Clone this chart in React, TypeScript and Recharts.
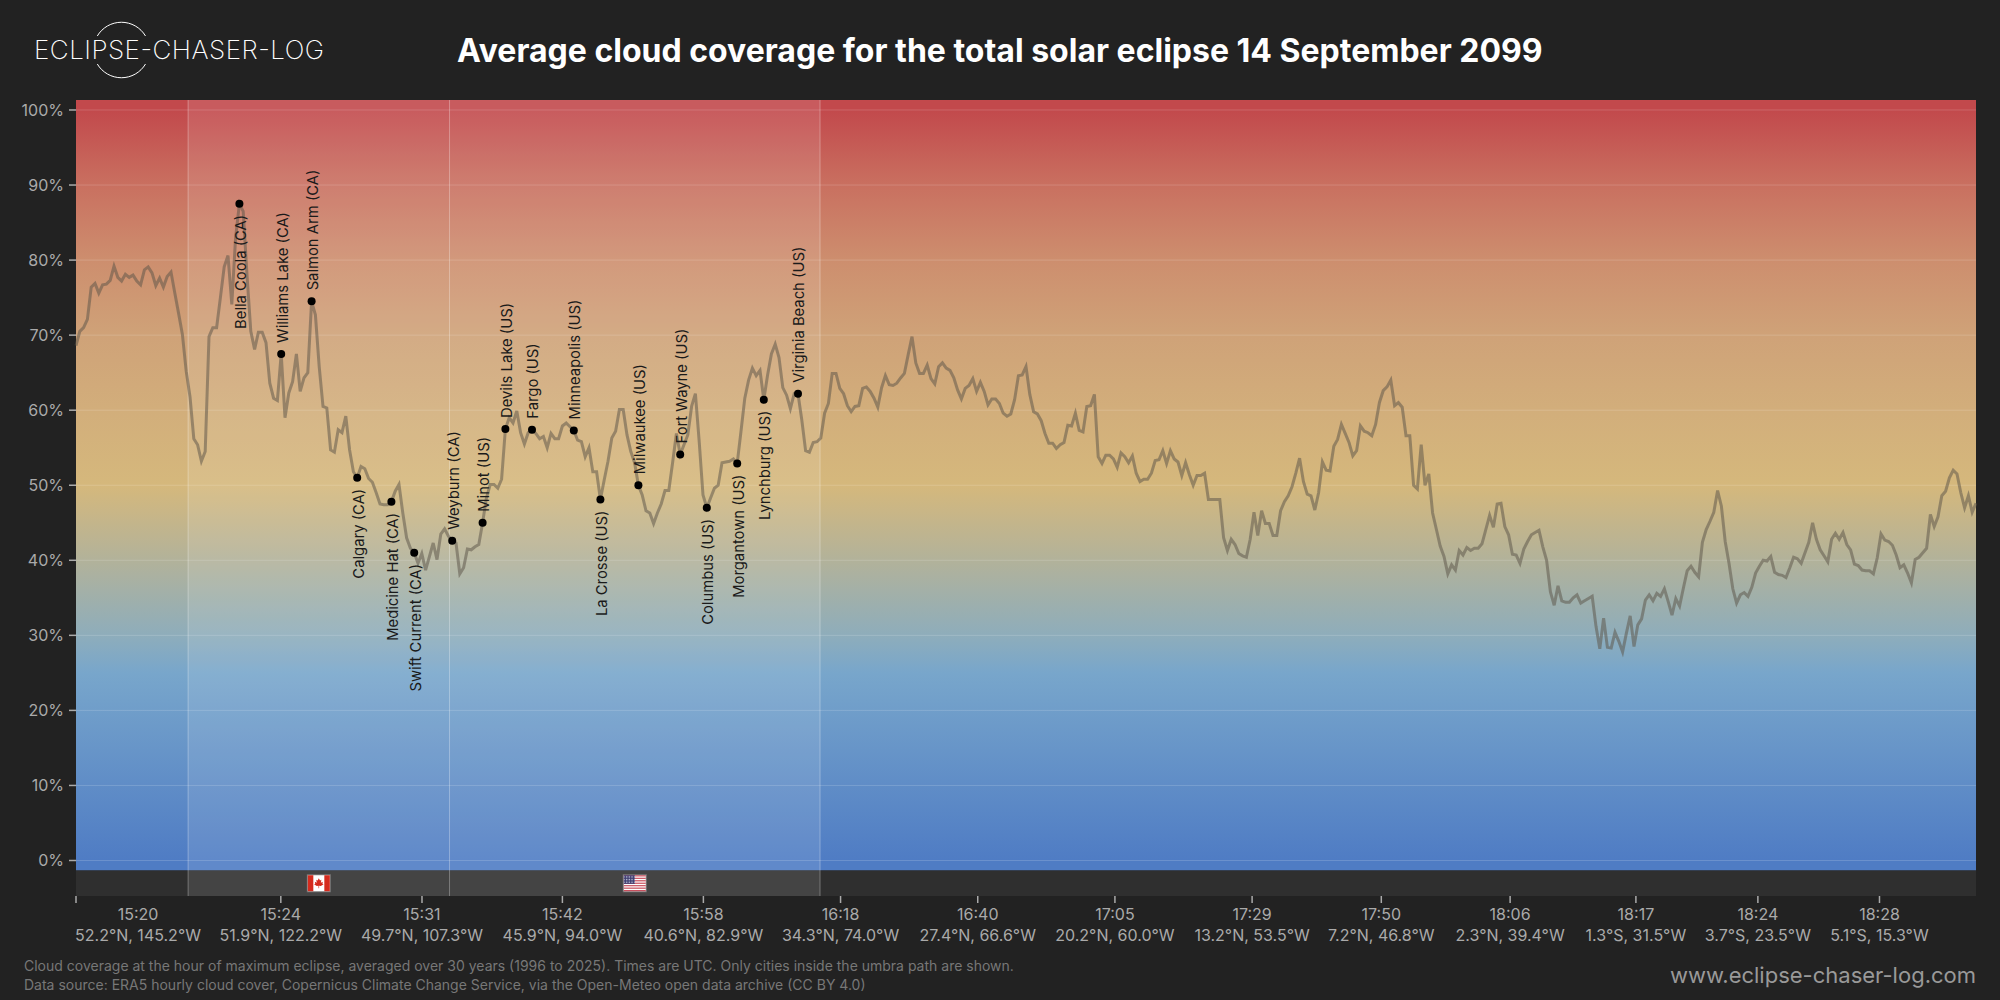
import React from 'react';
import { LineChart, Line, XAxis, YAxis, ReferenceArea, ReferenceLine, ReferenceDot } from 'recharts';

const FONT = 'Inter, "Noto Sans", sans-serif';

// mean cloud cover (%) per sample along the eclipse track
const cover = [
  68.6, 70.5, 71, 72.1, 76.4, 76.9, 75.6, 76.7, 76.8, 77.3, 79.2, 77.7, 77.2, 78.1, 77.7, 78, 77.2, 76.7, 78.7, 79.1,
  78.3, 76.6, 77.6, 76.4, 77.8, 78.4, 75.6, 72.9, 70.1, 65.2, 61.8, 56.2, 55.4, 53.2, 54.5, 69.8, 71, 71, 75, 79.1,
  80.6, 74.1, 83, 87.5, 86.5, 78, 70.5, 68.1, 70.4, 70.4, 69, 63.6, 61.6, 61.3, 67.5, 59, 62.3, 63.8, 67.5, 62.5,
  64.3, 65, 74.5, 72.7, 65.8, 60.5, 60.3, 54.7, 54.4, 57.4, 57, 59.2, 54.7, 51.8, 51, 52.5, 52.2, 50.9, 50.4, 49,
  47.5, 47.4, 47.4, 47.8, 49.2, 50.1, 46.3, 43, 41.6, 41, 39.6, 40.9, 38.7, 40.5, 42.3, 40.1, 43.5, 44.2, 43.2, 42.6,
  42.3, 38.2, 39, 41.5, 41.4, 41.8, 42.1, 45, 48.3, 50.1, 50.1, 49.6, 50.8, 57.5, 59, 58.3, 59.9, 57, 55.5, 57,
  57.4, 56.9, 56.2, 56.5, 55, 56.9, 56.2, 56.2, 57.9, 58.3, 57.8, 57.3, 56, 55.8, 53.8, 55, 51.8, 51.8, 48.1, 50.7,
  53.2, 56.3, 57.2, 60.1, 60.1, 56.7, 54.5, 53, 50, 48.7, 46.6, 46.3, 44.9, 46.3, 47.5, 49.3, 49.3, 53, 56.9, 54.1,
  55.4, 56.7, 60.5, 62.2, 55.8, 48.7, 47, 48.3, 49.6, 50, 53, 53.1, 53.2, 53.5, 52.9, 57.2, 61.6, 64, 65.6, 64.6,
  65.3, 61.4, 64.7, 67.5, 68.8, 67, 63, 62, 60.2, 62.2, 62.2, 58.7, 54.6, 54.4, 55.7, 55.8, 56.3, 59.6, 60.9, 64.9,
  64.9, 62.9, 62.2, 60.6, 59.8, 60.5, 60.6, 62.9, 63.1, 62.5, 61.6, 60.4, 63, 64.6, 63.4, 63.3, 63.6, 64.3, 64.9, 67.4,
  69.8, 66.3, 64.9, 64.9, 66, 64.2, 63.5, 65.8, 66.3, 65.6, 65.3, 64.3, 62.7, 61.5, 62.9, 63.3, 64.2, 62.5, 63.7, 62.5,
  60.7, 61.5, 61.5, 60.9, 59.6, 59.2, 59.5, 61.4, 64.6, 64.7, 65.8, 62.1, 59.8, 59.5, 58.6, 56.9, 55.6, 55.6, 54.9, 55.4,
  55.7, 58, 57.9, 59.6, 57.3, 57.1, 60.5, 60.6, 62.1, 53.8, 52.9, 54, 54, 53.5, 52.4, 54.3, 53.8, 53, 53.9, 51.6,
  50.5, 50.8, 50.8, 51.6, 53.3, 53.4, 54.6, 52.9, 54.6, 53.5, 53.1, 51.3, 53, 51.4, 50, 51.3, 51.3, 51.6, 48.1, 48.1,
  48.1, 48.1, 43, 41.3, 42.8, 42.1, 40.9, 40.6, 40.4, 42.8, 46.4, 43.3, 46.6, 44.9, 44.9, 43.3, 43.3, 46.6, 47.8, 48.6,
  49.8, 51.6, 53.6, 50.5, 48.8, 48.6, 46.7, 49, 53.1, 52, 51.9, 55.2, 56.1, 58.1, 56.9, 55.7, 53.9, 54.6, 57.9, 57.2,
  57, 56.6, 58.1, 61, 62.6, 63.1, 64, 60.6, 61, 60.4, 56.6, 56.6, 50, 49.5, 55.4, 50, 51.5, 46.3, 44.1, 41.9,
  40.5, 38.2, 39.4, 38.7, 41.3, 40.7, 41.7, 41.3, 41.6, 41.6, 42.2, 44.1, 46, 44.4, 47.5, 47.6, 44.5, 43.4, 40.8, 40.7,
  39.6, 41.5, 42.5, 43.4, 43.7, 44, 41.8, 40, 35.8, 34, 36.6, 34.6, 34.4, 34.4, 35, 35.4, 34.3, 34.6, 34.9, 35.2,
  31.2, 28.2, 32.3, 28.4, 28.3, 30.4, 29.2, 27.8, 30.3, 32.6, 28.5, 31.4, 32.2, 34.7, 35.4, 34.6, 35.6, 35.2, 36.2, 34.5,
  32.7, 34.9, 33.9, 36.3, 38.6, 39.2, 38.4, 37.8, 42.4, 44.1, 45.2, 46.4, 49.3, 47.2, 42.5, 39.6, 36.2, 34.3, 35.4, 35.7,
  35.2, 36.4, 38.3, 39.2, 40, 39.9, 40.5, 38.4, 38.1, 38, 37.7, 39, 40.4, 40.2, 39.6, 41, 42.4, 45, 42.8, 41.4,
  40.6, 39.8, 42.8, 43.6, 42.8, 43.7, 42.1, 41.4, 39.5, 39.3, 38.7, 38.6, 38.6, 38.2, 40.3, 43.5, 42.7, 42.5, 42, 40.7,
  39, 39.4, 38.3, 37, 40.1, 40.4, 41, 41.6, 46.1, 44.5, 45.8, 48.6, 49.2, 51, 52, 51.5, 49, 47, 48.6, 46.4,
  47.6,
];

const cityNames = [
  'Bella Coola (CA)', 'Williams Lake (CA)', 'Salmon Arm (CA)', 'Calgary (CA)', 'Medicine Hat (CA)', 'Swift Current (CA)',
  'Weyburn (CA)', 'Minot (US)', 'Devils Lake (US)', 'Fargo (US)', 'Minneapolis (US)', 'La Crosse (US)',
  'Milwaukee (US)', 'Fort Wayne (US)', 'Columbus (US)', 'Morgantown (US)', 'Lynchburg (US)', 'Virginia Beach (US)',
];
const citySamples = [43, 54, 62, 74, 83, 89, 99, 107, 113, 120, 131, 138, 148, 159, 166, 174, 181, 190];
const cityBelow = [true, false, false, true, true, true, false, false, false, false, false, true, false, false, true, true, true, false];

const xTicks = [0, 53.9, 91.05, 128, 165.1, 201.2, 237.3, 273.4, 309.5, 343.5, 377.4, 410.5, 442.6, 474.6];
const xTimes = ['15:20', '15:24', '15:31', '15:42', '15:58', '16:18', '16:40', '17:05', '17:29', '17:50', '18:06', '18:17', '18:24', '18:28'];
const xCoords = [
  '52.2°N, 145.2°W', '51.9°N, 122.2°W', '49.7°N, 107.3°W', '45.9°N, 94.0°W', '40.6°N, 82.9°W', '34.3°N, 74.0°W', '27.4°N, 66.6°W',
  '20.2°N, 60.0°W', '13.2°N, 53.5°W', '7.2°N, 46.8°W', '2.3°N, 39.4°W', '1.3°S, 31.5°W', '3.7°S, 23.5°W', '5.1°S, 15.3°W',
];
const yTicks = [0, 10, 20, 30, 40, 50, 60, 70, 80, 90, 100];
const bandEdges = [29.5, 98.3, 195.8];
const LAST = cover.length - 1;

const data = cover.map((value, i) => ({ i, cover: value }));

const Y_TOP = 101.33;
const Y_PLOT = -1.33;
const Y_STRIP = -4.73;

const stopAt = (v: number) => `${((Y_TOP - v) / (Y_TOP - Y_PLOT)) * 100}%`;
const gradientStops: [number, string][] = [
  [100, '#c2494c'], [90, '#c97060'], [80, '#cd8e6e'], [70, '#cfa278'], [60, '#d2ae7b'], [50, '#d5b87c'],
  [40, '#b2b29a'], [30, '#8eadbb'], [25, '#78a6cb'], [0, '#4f7cc4'],
];

const XTick = (props: any) => {
  const { x, y, index } = props;
  const cx = index === 0 ? x + 62 : x;
  return (
    <g fontFamily={FONT} fontSize={16} fill="#aaaaaa" textAnchor="middle">
      <text x={cx} y={y + 17}>{xTimes[index]}</text>
      <text x={cx} y={y + 38}>{xCoords[index]}</text>
    </g>
  );
};

const CityMark = (props: any) => {
  const { cx, cy, name, below } = props;
  const ty = below ? cy + 11 : cy - 11;
  const tx = cx + 1.5;
  return (
    <g>
      <circle cx={cx} cy={cy} r={4} fill="#000" />
      <text
        x={tx}
        y={ty}
        transform={`rotate(-90 ${tx} ${ty})`}
        textAnchor={below ? 'end' : 'start'}
        dominantBaseline="central"
        fontFamily={FONT}
        fontSize={14.8}
        fill="#1a1a1a"
      >
        {name}
      </text>
    </g>
  );
};

const CanadaFlag = ({ cx, cy }: any) => (
  <g transform={`translate(${cx - 12} ${cy - 9})`}>
    <rect width={24} height={18} fill="#777" />
    <rect x={1} y={1} width={22} height={16} fill="#fff" />
    <rect x={1} y={1} width={5.5} height={16} fill="#d52b1e" />
    <rect x={17.5} y={1} width={5.5} height={16} fill="#d52b1e" />
    <path d="M12 4 L13.2 6.2 L14.6 5.6 L14 8.4 L16 7.6 L15.6 9.4 L16.8 10 L14 11.8 L12.3 11.6 L12.3 14 L11.7 14 L11.7 11.6 L10 11.8 L7.2 10 L8.4 9.4 L8 7.6 L10 8.4 L9.4 5.6 L10.8 6.2 Z" fill="#d52b1e" />
  </g>
);

const stripeRows = [0, 2, 4, 6, 8, 10, 12];
const UsFlag = ({ cx, cy }: any) => (
  <g transform={`translate(${cx - 12} ${cy - 9})`}>
    <rect width={24} height={18} fill="#777" />
    <rect x={1} y={1} width={22} height={16} fill="#fff" />
    {stripeRows.map((r) => (
      <rect key={r} x={1} y={1 + r * (16 / 13)} width={22} height={16 / 13} fill="#c8505e" />
    ))}
    <rect x={1} y={1} width={11} height={8.6} fill="#3c3b6e" />
    <rect x={1} y={1} width={11} height={8.6} fill="url(#usStars)" />
  </g>
);

const Header = () => (
  <svg width={2000} height={1000} style={{ position: 'absolute', left: 0, top: 0, pointerEvents: 'none' }}>
    <g stroke="#fff" strokeWidth={1} fill="none">
      <path d="M97.3 36 A28 28 0 0 1 145.5 36" />
      <path d="M97.3 64 A28 28 0 0 0 145.5 64" />
    </g>
    <text x={34} y={59} fontFamily={FONT} fontWeight={200} fontSize={26} fill="#fff" textLength={290}>
      ECLIPSE-CHASER-LOG
    </text>
    <text x={457} y={62} fontFamily={FONT} fontWeight={700} fontSize={32} fill="#fff">
      Average cloud coverage for the total solar eclipse 14 September 2099
    </text>
    <g fontFamily={FONT} fontSize={14} fill="#777777">
      <text x={24} y={971}>Cloud coverage at the hour of maximum eclipse, averaged over 30 years (1996 to 2025). Times are UTC. Only cities inside the umbra path are shown.</text>
      <text x={24} y={990}>Data source: ERA5 hourly cloud cover, Copernicus Climate Change Service, via the Open-Meteo open data archive (CC BY 4.0)</text>
    </g>
    <text x={1976} y={983} textAnchor="end" fontFamily={FONT} fontSize={22} fill="#999999">
      www.eclipse-chaser-log.com
    </text>
  </svg>
);

export default function App() {
  return (
    <div style={{ position: 'absolute', left: 0, top: 0, width: 2000, height: 1000, background: '#222222', overflow: 'hidden' }}>
      <LineChart width={2000} height={1000} data={data} margin={{ top: 100, right: 24, bottom: 44, left: 0 }}>
        <defs>
          <linearGradient id="coverFill" x1="0" y1="0" x2="0" y2="1">
            {gradientStops.map(([v, c]) => (
              <stop key={v} offset={stopAt(v)} stopColor={c} />
            ))}
          </linearGradient>
          <pattern id="usStars" width={1.6} height={1.6} patternUnits="userSpaceOnUse">
            <rect width={0.8} height={0.8} fill="#c8cce0" />
          </pattern>
        </defs>
        <XAxis
          dataKey="i"
          type="number"
          domain={[0, LAST]}
          ticks={xTicks}
          interval={0}
          height={60}
          axisLine={false}
          tickSize={7}
          tickMargin={0}
          tickLine={{ stroke: '#aaaaaa', strokeWidth: 1.5 }}
          tick={<XTick />}
        />
        <YAxis
          type="number"
          domain={[Y_STRIP, Y_TOP]}
          ticks={yTicks}
          interval={0}
          width={76}
          axisLine={false}
          tickSize={7}
          tickMargin={5}
          tickLine={{ stroke: '#aaaaaa', strokeWidth: 1.5 }}
          tick={{ fontFamily: FONT, fontSize: 16, fill: '#aaaaaa' }}
          tickFormatter={(v: number) => `${v}%`}
        />
        <ReferenceArea x1={0} x2={LAST} y1={Y_PLOT} y2={Y_TOP} fill="url(#coverFill)" fillOpacity={1} stroke="none" />
        <ReferenceArea x1={0} x2={LAST} y1={Y_STRIP} y2={Y_PLOT} fill="#2f2f2f" fillOpacity={1} stroke="none" />
        {yTicks.map((v) => (
          <ReferenceLine key={v} y={v} stroke="#ffffff" strokeOpacity={0.16} strokeWidth={1} />
        ))}
        <ReferenceArea x1={bandEdges[0]} x2={bandEdges[1]} y1={Y_STRIP} y2={Y_TOP} fill="#ffffff" fillOpacity={0.1} stroke="none" />
        <ReferenceArea x1={bandEdges[1]} x2={bandEdges[2]} y1={Y_STRIP} y2={Y_TOP} fill="#ffffff" fillOpacity={0.1} stroke="none" />
        {bandEdges.map((x) => (
          <ReferenceLine key={x} x={x} stroke="#ffffff" strokeOpacity={0.3} strokeWidth={1} />
        ))}
        <ReferenceDot x={(bandEdges[0] + bandEdges[1]) / 2} y={(Y_STRIP + Y_PLOT) / 2} r={1} shape={CanadaFlag} />
        <ReferenceDot x={(bandEdges[1] + bandEdges[2]) / 2} y={(Y_STRIP + Y_PLOT) / 2} r={1} shape={UsFlag} />
        <Line
          dataKey="cover"
          type="linear"
          stroke="#5c5448"
          strokeOpacity={0.52}
          strokeWidth={3}
          dot={false}
          activeDot={false}
          isAnimationActive={false}
        />
        {cityNames.map((name, k) => (
          <ReferenceDot
            key={name}
            x={citySamples[k]}
            y={cover[citySamples[k]]}
            r={4}
            shape={(p: any) => <CityMark {...p} name={name} below={cityBelow[k]} />}
          />
        ))}
      </LineChart>
      <Header />
    </div>
  );
}
